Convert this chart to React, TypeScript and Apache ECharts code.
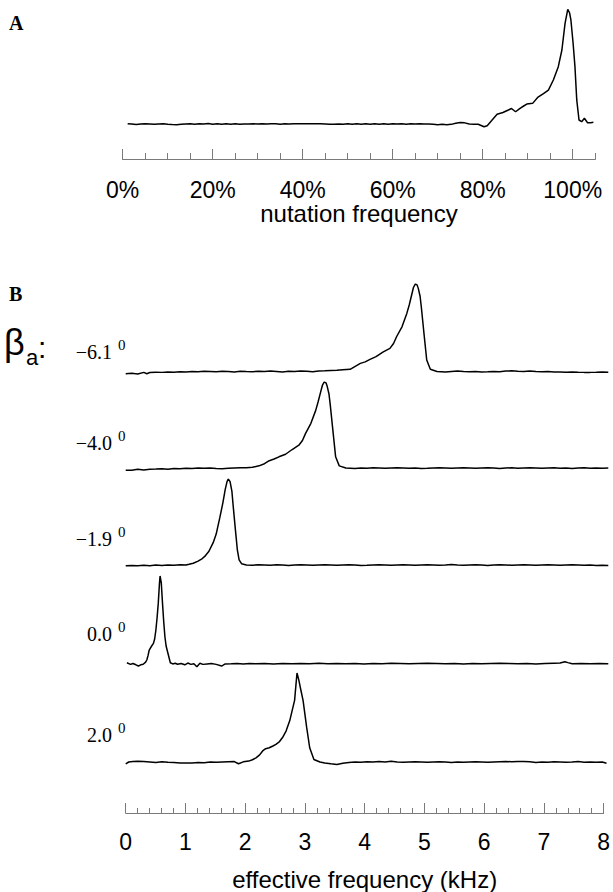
import React, { useEffect, useRef } from "react";
import * as echarts from "echarts";

// ---------- Panel A data ----------
const nutationMajorTicks = [0, 20, 40, 60, 80, 100];
const nutationMinorTicks = [0, 5, 10, 15, 20, 25, 30, 35, 40, 45, 50, 55, 60, 65, 70, 75, 80, 85, 90, 95, 100, 105];
const nutationTrace: number[][] = [
  [1.1, 0.3], [2, 0], [3, -0.5], [4, 0], [5, 0.2], [6, 0], [7, -0.3], [8, 0], [9, 0.3], [10, -0.2],
  [11, -0.5], [12, -0.6], [13, -0.3], [14, 0], [15, 0.2], [16, -0.3], [17, 0.3], [18, 0], [19, 0.4], [20, -0.2],
  [21, 0.3], [22, -0.3], [23, 0.2], [24, -0.2], [25, 0.2], [26, -0.3], [27, 0], [28, 0], [29, 0.2], [30, 0],
  [31, 0.3], [32, 0], [33, 0.3], [34, 0.2], [35, -0.3], [36, 0.3], [37, 0], [38, 0.2], [40, 0.2], [42, 0.2],
  [44, 0.2], [45, 0], [46, -0.3], [47, -0.3], [48, 0], [49, -0.3], [50, 0.2], [51, -0.2], [52, 0.3], [53, -0.3],
  [54, 0.2], [55, -0.3], [56, 0.2], [57, -0.2], [58, 0.2], [59, -0.2], [60, 0.3], [61, 0], [62, 0.2], [63, -0.2],
  [64, 0.2], [65, 0], [66, 0.2], [67, 0], [68, 0], [69, -0.3], [70, -0.6], [71, -0.3], [72, -0.6], [73, -0.3],
  [74, 0.6], [75, 1.3], [76, 1.0], [77, 0], [78, -0.2], [79, -0.2], [80.3, -2.4], [81, -1.5], [82, 3], [83.2, 8.5],
  [84.5, 10], [85.7, 12.2], [86.4, 13.5], [87.3, 10.7], [88.3, 13.7], [89.1, 15.7], [89.8, 17.4], [91.1, 18],
  [92.3, 23.5], [93.5, 26.5], [94.6, 29.6], [95.7, 38.4], [96.8, 50], [97.6, 64.5], [98.3, 87.8], [98.9, 100],
  [99.3, 97], [99.6, 90.7], [100.1, 70], [100.5, 50], [100.9, 21], [101.4, 3.5], [102, 2], [102.6, 5],
  [103.3, 1.1], [104, 1.2], [104.6, 1.5]
];

// ---------- Panel B data ----------
const freqMajorTicks = [0, 1, 2, 3, 4, 5, 6, 7, 8];
const betaValues = ["−6.1", "−4.0", "−1.9", "0.0", "2.0"];

const traceM61: number[][] = [
  [0, -2.5], [0.1, -2], [0.2, -2.8], [0.3, -1], [0.35, -2.5], [0.4, -1.2], [0.5, -0.8], [0.6, -1], [0.7, -0.5], [0.8, -0.8],
  [0.9, -0.3], [1.0, -0.5], [1.1, 0], [1.2, -0.3], [1.3, 0.2], [1.4, 0], [1.5, -0.3], [1.6, 0.2], [1.7, 0], [1.8, -0.5],
  [1.9, 0.3], [2.0, 0], [2.1, -0.2], [2.2, 0.3], [2.3, 0], [2.4, 0.5], [2.5, 0], [2.6, -0.5], [2.7, 0.3], [2.8, 0],
  [2.9, 0.5], [3.0, 0.2], [3.1, -0.3], [3.2, 0.5], [3.3, 0.8], [3.4, 1.2], [3.5, 1.5], [3.6, 2], [3.72, 2.5], [3.89, 9.3],
  [3.97, 11], [4.05, 13.9], [4.15, 17], [4.27, 22.5], [4.38, 26.4], [4.44, 32], [4.49, 39.7], [4.58, 51.1], [4.66, 66.4],
  [4.7, 76], [4.74, 87.4], [4.77, 96], [4.8, 100], [4.83, 99], [4.85, 95], [4.88, 86], [4.9, 74], [4.95, 39.7],
  [4.99, 13.1], [5.05, 2.5], [5.16, 0], [5.3, -0.5], [5.4, 0], [5.5, 0.5], [5.6, 0], [5.7, -0.3], [5.8, 0], [5.9, -0.5],
  [6.0, -0.3], [6.1, 0], [6.2, -0.3], [6.3, 0.5], [6.4, 0.8], [6.5, 0.3], [6.6, 0], [6.7, 0.5], [6.8, 0], [6.9, -0.3],
  [7.0, 0], [7.1, -0.5], [7.2, -0.5], [7.3, -0.8], [7.4, -0.5], [7.5, -0.8], [7.6, -1], [7.7, -1], [7.8, -0.8], [7.9, -0.5], [8.0, -0.8]
];

const traceM40: number[][] = [
  [0, -2.5], [0.1, -2.5], [0.2, -1.5], [0.3, -2.2], [0.4, -1.5], [0.5, -1.2], [0.6, -0.8], [0.7, -1.5], [0.8, -0.5], [0.9, -0.8],
  [1.0, -0.3], [1.1, -0.5], [1.2, 0], [1.3, -0.3], [1.4, 0], [1.5, -0.5], [1.6, -0.8], [1.7, -0.3], [1.8, 0], [1.9, 0.3],
  [2.0, 0.2], [2.1, 0.8], [2.21, 2.5], [2.3, 5], [2.38, 8.5], [2.46, 10.5], [2.54, 13], [2.65, 16], [2.76, 21.5], [2.87, 26.5],
  [2.93, 32], [2.98, 40], [3.07, 52], [3.15, 67], [3.19, 77], [3.23, 88], [3.26, 96], [3.29, 100], [3.32, 99], [3.34, 95],
  [3.37, 86], [3.39, 74], [3.44, 40], [3.48, 13], [3.54, 2.5], [3.65, 0], [3.8, -0.5], [3.9, 0], [4.0, -0.3], [4.1, 0.3],
  [4.2, 0], [4.3, -0.3], [4.4, 0], [4.5, 0.3], [4.6, 0], [4.7, -0.3], [4.8, 0], [4.9, -0.5], [5.0, -0.3], [5.1, 0],
  [5.2, 0.3], [5.3, 0], [5.4, -0.3], [5.5, 0], [5.6, 0.3], [5.7, 0], [5.8, -0.3], [5.9, 0], [6.0, 0.3], [6.1, 0],
  [6.2, -0.5], [6.3, 0], [6.4, 0.3], [6.5, -0.3], [6.6, 0], [6.7, 0.3], [6.8, 0], [6.9, -0.3], [7.0, 0], [7.1, 0.3],
  [7.2, -0.3], [7.3, 0], [7.4, -0.5], [7.5, 0], [7.6, 0.3], [7.7, -0.3], [7.8, 0], [7.9, -0.3], [8.0, 0]
];

const traceM19: number[][] = [
  [0, -1], [0.1, -0.5], [0.2, -1], [0.3, -0.3], [0.4, -0.8], [0.5, 0], [0.6, -0.5], [0.7, 0], [0.8, -0.3], [0.9, 0.3],
  [1.0, 0], [1.05, 0.8], [1.12, 2], [1.2, 4.5], [1.27, 7.5], [1.31, 10], [1.38, 16], [1.45, 26], [1.5, 36], [1.56, 55],
  [1.61, 72], [1.65, 88], [1.68, 97], [1.7, 100], [1.73, 97], [1.76, 86], [1.78, 70], [1.82, 40], [1.85, 18], [1.88, 6],
  [1.92, 1.5], [2.0, 0], [2.1, -0.3], [2.2, 0.3], [2.3, 0], [2.4, -0.3], [2.5, 0.2], [2.6, 0], [2.7, -0.5], [2.8, 0],
  [2.9, 0.3], [3.0, 0], [3.1, -0.3], [3.2, 0], [3.3, 0.3], [3.4, 0], [3.5, -0.3], [3.6, 0], [3.7, 0.3], [3.8, 0],
  [3.9, -0.5], [4.0, -0.3], [4.1, 0], [4.2, 0.3], [4.3, 0], [4.4, -0.3], [4.5, 0], [4.6, 0.3], [4.7, 0], [4.8, -0.3],
  [4.9, 0], [5.0, 0.3], [5.1, 0], [5.2, -0.3], [5.3, 0], [5.4, 0.5], [5.5, 0], [5.6, -0.3], [5.7, 0], [5.8, 0.3],
  [5.9, 0], [6.0, -0.5], [6.1, 0], [6.2, 0.3], [6.3, 0], [6.4, -0.3], [6.5, 0], [6.6, 0.3], [6.7, 0], [6.8, -0.3],
  [6.9, 0], [7.0, 0.3], [7.1, 0], [7.2, -0.3], [7.3, 0], [7.4, 0.3], [7.5, 0], [7.6, -0.3], [7.7, 0], [7.8, -0.5], [7.9, -0.3], [8.0, -0.5]
];

const trace00: number[][] = [
  [0.02, 0.9], [0.08, -1], [0.12, 0], [0.17, -1.5], [0.21, -2.9], [0.25, -1.5], [0.29, -0.9], [0.33, 1.5], [0.35, 4], [0.37, 9],
  [0.39, 15.4], [0.43, 20], [0.46, 23], [0.48, 28], [0.5, 38], [0.52, 52], [0.54, 69], [0.56, 92], [0.57, 100], [0.59, 92],
  [0.61, 69], [0.63, 48], [0.65, 30.6], [0.67, 20], [0.7, 11.7], [0.74, 0.9], [0.78, -0.5], [0.82, 0.3], [0.86, -0.9], [0.92, 0],
  [0.98, -1.5], [1.03, 0.5], [1.08, -1], [1.13, -0.2], [1.18, -3.7], [1.23, 0.2], [1.28, -1], [1.35, -0.5], [1.42, 0], [1.5, -1],
  [1.59, -2.9], [1.65, -0.5], [1.75, -0.3], [1.85, 0], [1.95, -0.5], [2.05, 0], [2.15, -0.3], [2.3, 0], [2.45, -0.5], [2.6, 0],
  [2.75, -0.3], [2.9, 0], [3.05, -0.3], [3.2, 0.3], [3.35, -0.3], [3.5, 0], [3.65, -0.3], [3.8, 0], [3.95, -0.5], [4.1, 0],
  [4.25, -0.3], [4.4, 0.3], [4.55, 0], [4.7, -0.3], [4.85, 0], [5.0, 0.3], [5.15, 0], [5.3, -0.3], [5.45, 0], [5.6, -0.5],
  [5.75, 0], [5.9, -0.3], [6.05, 0], [6.2, 0.3], [6.35, 0], [6.5, -0.3], [6.65, 0], [6.8, -0.5], [6.95, 0], [7.1, 0.3],
  [7.2, 0.5], [7.28, 2], [7.33, 1], [7.4, -0.3], [7.55, 0], [7.7, -0.3], [7.85, 0], [8.0, -0.3]
];

const trace20: number[][] = [
  [0, -2], [0.05, 0], [0.12, 0.5], [0.2, 0.8], [0.3, 0.5], [0.4, 0], [0.5, -0.5], [0.6, 0.3], [0.7, -0.3], [0.8, -0.5],
  [0.9, -1], [1.0, -1.2], [1.1, -1], [1.2, -0.5], [1.3, -0.8], [1.4, 0], [1.5, -0.3], [1.6, 0], [1.7, 0.3], [1.8, 0.5],
  [1.87, -2], [1.95, 0.2], [2.04, 1], [2.1, 2.5], [2.16, 4.7], [2.22, 8], [2.27, 12.4], [2.32, 15], [2.38, 16], [2.44, 18],
  [2.49, 19.9], [2.55, 23], [2.6, 27.5], [2.66, 35], [2.72, 46.5], [2.76, 58], [2.8, 69.3], [2.82, 85], [2.84, 100], [2.87, 92],
  [2.9, 82], [2.94, 69.3], [3.0, 38.9], [3.05, 16], [3.12, 2.8], [3.22, 0], [3.3, -1], [3.4, -2], [3.5, -2.9], [3.6, -1.5],
  [3.7, -0.5], [3.8, 0], [3.9, -0.3], [4.0, 0.3], [4.1, 0], [4.2, 0.5], [4.3, 0], [4.4, 0.8], [4.5, 0], [4.6, -0.3],
  [4.7, 0], [4.8, 0.3], [4.9, 0], [5.0, -0.3], [5.1, 0], [5.2, 0.3], [5.3, 0], [5.4, -0.5], [5.5, 0], [5.6, -0.3],
  [5.7, 0], [5.8, 0.3], [5.9, 0], [6.0, -0.3], [6.1, 0], [6.2, 0.3], [6.3, 0.5], [6.4, 0.3], [6.5, 0.5], [6.6, 0.5],
  [6.7, 0.3], [6.8, -0.5], [6.9, 0], [7.0, -0.3], [7.1, 0.3], [7.2, 0], [7.3, -0.3], [7.4, 0], [7.5, 0.5], [7.6, -0.3],
  [7.7, 0], [7.8, -0.3], [7.9, 0], [7.97, -1.5]
];

const tracesB = [traceM61, traceM40, traceM19, trace00, trace20];

// ---------- layout ----------
const SANS = "'Liberation Sans', Arial, sans-serif";
const SERIF = "'Liberation Serif', 'Times New Roman', serif";
const AXIS_GRAY = "#7a7a7a";

// per trace: peak y (top of grid) and baseline y
const traceLayout = [
  { peak: 284, base: 371.5, label: 352 },
  { peak: 382, base: 468, label: 443 },
  { peak: 479, base: 565, label: 539 },
  { peak: 576, base: 663.5, label: 634 },
  { peak: 673, base: 762, label: 735 },
];

export default function App() {
  const ref = useRef<HTMLDivElement>(null);
  useEffect(() => {
    if (!ref.current) return;
    const chart = echarts.init(ref.current, null, { renderer: "svg" });

    const BL = 125.7;
    const BW = 482.6;

    const grids: any[] = [
      { left: 122.7, width: 472.5, top: 9.3, height: 149.7 },
    ];
    traceLayout.forEach((t) => {
      grids.push({ left: BL, width: BW, top: t.peak, height: (t.base - t.peak) * 1.1 });
    });
    grids.push({ left: BL, width: BW, top: 780, height: 33 });

    const hiddenX = (gi: number) => ({
      type: "value", gridIndex: gi, min: 0, max: 8, show: false,
    });

    const xAxes: any[] = [
      {
        type: "value", gridIndex: 0, min: 0, max: 105, position: "bottom",
        axisLine: { show: true, onZero: false, lineStyle: { color: AXIS_GRAY, width: 1 } },
        axisTick: { show: true, inside: true, length: 6, customValues: nutationMinorTicks, lineStyle: { color: AXIS_GRAY, width: 1 } },
        axisLabel: { show: false },
        splitLine: { show: false },
      },
      {
        type: "value", gridIndex: 0, min: 0, max: 105, position: "bottom",
        axisLine: { show: true, onZero: false, lineStyle: { color: AXIS_GRAY, width: 1 } },
        axisTick: { show: true, inside: true, length: 10, customValues: nutationMajorTicks, lineStyle: { color: AXIS_GRAY, width: 1 } },
        axisLabel: {
          show: true, customValues: nutationMajorTicks, formatter: "{value}%",
          fontFamily: SANS, fontSize: 23, color: "#000", margin: 19,
        },
        splitLine: { show: false },
        name: "nutation frequency", nameLocation: "middle", nameGap: 40,
        nameTextStyle: { fontFamily: SANS, fontSize: 24, color: "#000" },
      },
    ];
    for (let i = 1; i <= 5; i++) xAxes.push(hiddenX(i));
    xAxes.push({
      type: "value", gridIndex: 6, min: 0, max: 8, interval: 1, position: "bottom",
      axisLine: { show: true, onZero: false, lineStyle: { color: AXIS_GRAY, width: 1 } },
      axisTick: { show: true, inside: true, length: 10, customValues: freqMajorTicks, lineStyle: { color: AXIS_GRAY, width: 1 } },
      minorTick: { show: true, splitNumber: 5, length: 5, lineStyle: { color: AXIS_GRAY, width: 1 } },
      axisLabel: { show: true, fontFamily: SANS, fontSize: 23, color: "#000", margin: 17 },
      splitLine: { show: false },
      minorSplitLine: { show: false },
      name: "effective frequency (kHz)", nameLocation: "middle", nameGap: 54,
      nameTextStyle: { fontFamily: SANS, fontSize: 24, color: "#000" },
    });

    const yAxes: any[] = [
      { type: "value", gridIndex: 0, min: -30.5, max: 100, show: false },
    ];
    for (let i = 1; i <= 5; i++) yAxes.push({ type: "value", gridIndex: i, min: -10, max: 100, show: false });
    yAxes.push({ type: "value", gridIndex: 6, min: 0, max: 1, show: false });

    const lineStyle = { color: "#000", width: 1.5 };
    const series: any[] = [
      {
        type: "line", xAxisIndex: 0, yAxisIndex: 0, data: nutationTrace,
        showSymbol: false, symbol: "none", lineStyle, silent: true,
      },
    ];
    tracesB.forEach((d, i) => {
      series.push({
        type: "line", xAxisIndex: 2 + i, yAxisIndex: 1 + i, data: d,
        showSymbol: false, symbol: "none", lineStyle, silent: true,
      });
    });

    const graphic: any[] = [
      { type: "text", left: 9, top: 13, style: { text: "A", font: `bold 20px ${SERIF}`, fill: "#000" } },
      { type: "text", left: 9, top: 284, style: { text: "B", font: `bold 20px ${SERIF}`, fill: "#000" } },
      { type: "text", x: 4, y: 342, style: { text: "β", font: `36px ${SANS}`, fill: "#000", textVerticalAlign: "middle" } },
      { type: "text", x: 26, y: 357, style: { text: "a", font: `22px ${SANS}`, fill: "#000", textVerticalAlign: "middle" } },
      { type: "text", x: 38, y: 347, style: { text: ":", font: `30px ${SANS}`, fill: "#000", textVerticalAlign: "middle" } },
    ];
    betaValues.forEach((v, i) => {
      const y = traceLayout[i].label;
      graphic.push({
        type: "text", x: 112, y,
        style: { text: v, font: `20px ${SERIF}`, fill: "#000", textAlign: "right", textVerticalAlign: "middle" },
      });
      graphic.push({
        type: "text", x: 118, y: y - 7,
        style: { text: "0", font: `15px ${SERIF}`, fill: "#000", textAlign: "left", textVerticalAlign: "middle" },
      });
    });

    chart.setOption({
      animation: false,
      backgroundColor: "#fff",
      grid: grids,
      xAxis: xAxes,
      yAxis: yAxes,
      series,
      graphic,
    });
    return () => chart.dispose();
  }, []);

  return (
    <div
      ref={ref}
      style={{ position: "fixed", left: 0, top: 0, width: 613, height: 892, background: "#fff" }}
    />
  );
}
